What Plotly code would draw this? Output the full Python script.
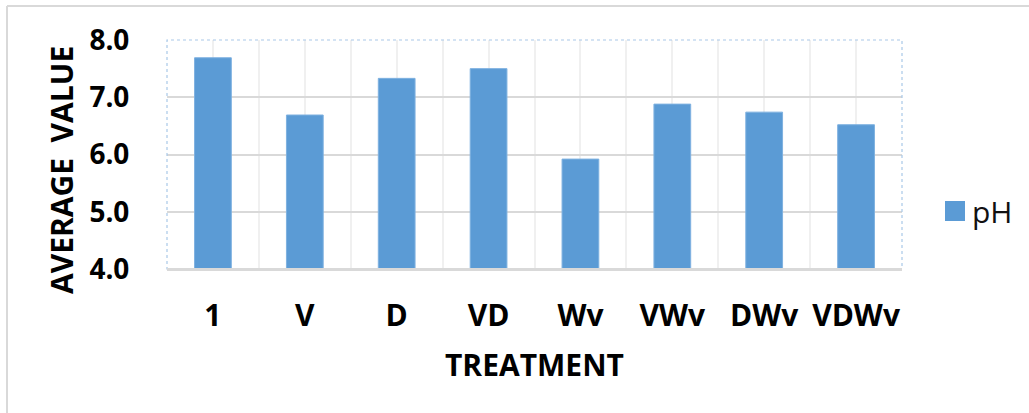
import plotly.graph_objects as go

# Treatment groups and mean pH per group
treatments = ["1", "V", "D", "VD", "Wv", "VWv", "DWv", "VDWv"]
ph_values = [7.69, 6.69, 7.33, 7.50, 5.92, 6.88, 6.74, 6.52]
y_ticks = [4.0, 5.0, 6.0, 7.0, 8.0]
series_name = "pH"

positions = list(range(len(treatments)))

BAR_BLUE = "#5B9BD5"
GRID = "#D9D9D9"
VGRID = "#F0F0F0"
BOLD_FONT = "Open Sans"

fig = go.Figure()
fig.add_trace(go.Bar(
    x=positions,
    y=ph_values,
    name=series_name,
    marker=dict(color=BAR_BLUE, line=dict(color="#7EB1E0", width=1)),
    showlegend=False,
))

W, H = 1029, 413
L, R, T, B = 167, 127, 40, 144
pw, ph = W - L - R, H - T - B

def px_x(px):
    return (px - L) / pw

def px_y(py):
    return 1 - (py - T) / ph

fig.update_layout(
    width=W,
    height=H,
    margin=dict(l=L, r=R, t=T, b=B),
    paper_bgcolor="white",
    plot_bgcolor="white",
    bargap=0.6,
    xaxis=dict(
        range=[-0.5, len(treatments) - 0.5],
        tickmode="array",
        tickvals=positions,
        ticktext=treatments,
        tickfont=dict(family=BOLD_FONT, size=30, color="black", weight="bold"),
        showgrid=True,
        gridcolor=VGRID,
        gridwidth=1.5,
        minor=dict(tickmode="linear", tick0=-0.5, dtick=1, showgrid=True,
                   gridcolor=VGRID, gridwidth=1.5),
        showline=True,
        linecolor=GRID,
        linewidth=2,
        ticks="outside",
        ticklen=19,
        tickcolor="rgba(0,0,0,0)",
        zeroline=False,
        fixedrange=True,
    ),
    yaxis=dict(
        range=[4.0, 8.0],
        tickmode="array",
        tickvals=y_ticks,
        ticktext=[f"{v:.1f}" for v in y_ticks],
        tickfont=dict(family=BOLD_FONT, size=28, color="black", weight="bold"),
        showgrid=True,
        gridcolor=GRID,
        gridwidth=1.5,
        showline=False,
        zeroline=False,
        ticks="outside",
        ticklen=31,
        tickcolor="rgba(0,0,0,0)",
        fixedrange=True,
    ),
)

# dotted frame around the plotting area
fig.add_shape(type="rect", xref="paper", yref="paper", x0=0, x1=1, y0=0, y1=1,
              line=dict(color="#A9C8E8", width=1.2, dash="dot"), layer="above")
# redraw the solid category axis line on top of the dotted frame
fig.add_shape(type="line", xref="paper", yref="paper", x0=0, x1=1, y0=0, y1=0,
              line=dict(color=GRID, width=2), layer="above")

# outer chart border (top and left edges)
fig.add_shape(type="line", xref="paper", yref="paper",
              x0=px_x(7), x1=px_x(W + 5), y0=px_y(6), y1=px_y(6),
              line=dict(color=GRID, width=2))
fig.add_shape(type="line", xref="paper", yref="paper",
              x0=px_x(7), x1=px_x(7), y0=px_y(6), y1=px_y(H + 5),
              line=dict(color=GRID, width=2))

# legend: swatch + label
fig.add_shape(type="rect", xref="paper", yref="paper",
              x0=px_x(945), x1=px_x(965), y0=px_y(221), y1=px_y(201),
              fillcolor=BAR_BLUE, line=dict(width=0))
fig.add_annotation(text=series_name, xref="paper", yref="paper",
                   x=px_x(970), y=px_y(211), showarrow=False,
                   xanchor="left", yanchor="middle",
                   font=dict(family="Open Sans", size=30, color="#111111"))

# axis titles
fig.add_annotation(text="TREATMENT", xref="paper", yref="paper",
                   x=px_x(534), y=px_y(364), showarrow=False,
                   xanchor="center", yanchor="middle",
                   font=dict(family=BOLD_FONT, size=30, color="black", weight="bold"))
fig.add_annotation(text="AVERAGE  VALUE", xref="paper", yref="paper",
                   x=px_x(61), y=px_y(170), showarrow=False, textangle=-90,
                   xanchor="center", yanchor="middle",
                   font=dict(family=BOLD_FONT, size=30, color="black", weight="bold"))

fig.write_html("out.html")
